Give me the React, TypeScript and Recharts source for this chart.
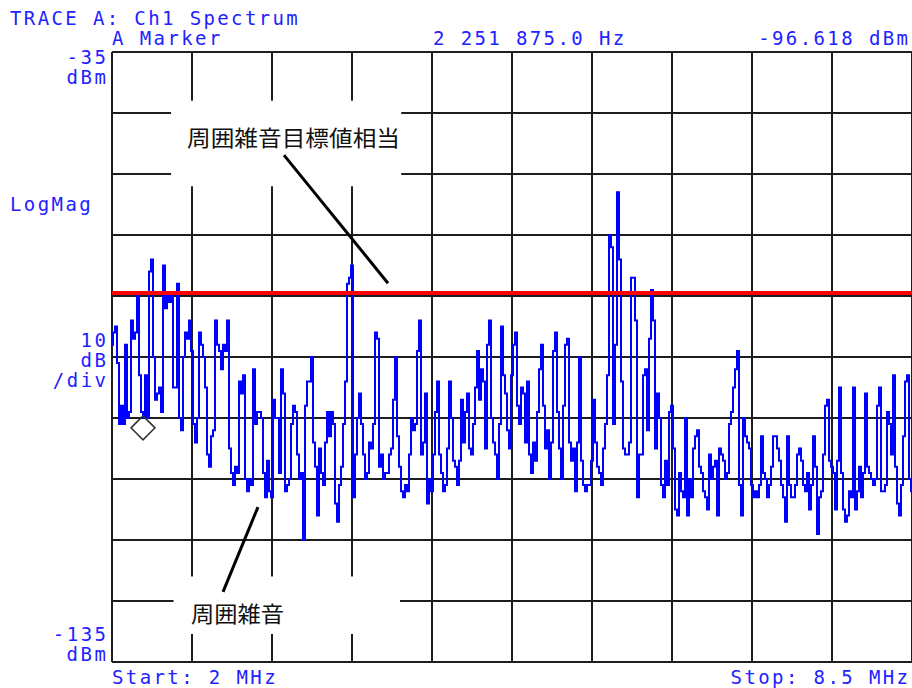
import React from 'react';
import {
  LineChart, Line, XAxis, YAxis, CartesianGrid, ReferenceArea, ReferenceLine, ReferenceDot,
} from 'recharts';

// ---- Data ----
const START_MHZ = 2;
const STOP_MHZ = 8.5;
const REF_TOP_DBM = -35;
const REF_BOTTOM_DBM = -135;
const DB_PER_DIV = 10;
const TARGET_LEVEL_DBM = -74.5; // 周囲雑音目標値相当
const MARKER_FREQ_MHZ = 2.251875;
const MARKER_LEVEL_DBM = -96.618;

// Trace levels (dBm), 401 sweep points from 2 MHz to 8.5 MHz
const traceLevels: number[] = [
  -83, -81, -80, -86, -96, -93, -96, -83, -95, -94,
  -79, -82, -81, -75, -88, -94, -95, -88, -95, -71,
  -69, -85, -92, -91, -90, -94, -70, -77, -75, -76,
  -75, -90, -90, -73, -95, -97, -85, -81, -82, -79,
  -84, -96, -99, -95, -81, -83, -85, -90, -101, -103,
  -98, -97, -79, -83, -84, -87, -83, -84, -79, -100,
  -104, -106, -103, -104, -89, -91, -88, -105, -107, -105,
  -106, -87, -96, -94, -94, -95, -104, -108, -102, -107,
  -108, -92, -95, -95, -104, -87, -91, -107, -106, -105,
  -96, -93, -94, -101, -105, -104, -115, -93, -89, -89,
  -85, -99, -103, -111, -100, -104, -106, -99, -94, -98,
  -94, -96, -109, -112, -106, -103, -96, -89, -73, -72,
  -70, -108, -101, -95, -91, -96, -101, -105, -104, -99,
  -100, -96, -81, -82, -103, -101, -105, -104, -104, -101,
  -100, -92, -85, -98, -103, -107, -108, -106, -107, -101,
  -95, -97, -96, -84, -79, -101, -99, -91, -109, -105,
  -107, -101, -94, -89, -101, -104, -107, -106, -100, -89,
  -95, -102, -103, -106, -102, -92, -99, -94, -91, -100,
  -101, -96, -90, -84, -92, -87, -89, -100, -83, -79,
  -95, -99, -101, -105, -96, -80, -88, -91, -97, -100,
  -88, -83, -81, -93, -96, -90, -91, -99, -89, -101,
  -104, -99, -102, -94, -87, -83, -93, -100, -97, -105,
  -99, -84, -81, -94, -100, -105, -93, -83, -82, -99,
  -102, -100, -107, -99, -85, -102, -106, -107, -106, -106,
  -102, -92, -99, -103, -104, -106, -100, -96, -88, -65,
  -67, -96, -83, -58, -69, -89, -100, -101, -101, -99,
  -72, -72, -79, -108, -101, -101, -88, -87, -97, -82,
  -74, -79, -100, -91, -95, -106, -108, -102, -106, -94,
  -93, -100, -110, -111, -104, -107, -108, -95, -111, -105,
  -108, -100, -98, -97, -103, -104, -107, -108, -110, -101,
  -105, -103, -102, -111, -100, -101, -102, -105, -104, -96,
  -94, -90, -87, -84, -106, -111, -95, -98, -99, -100,
  -106, -108, -107, -108, -106, -98, -104, -105, -108, -106,
  -103, -98, -98, -100, -102, -106, -108, -112, -98, -106,
  -108, -108, -106, -101, -100, -102, -106, -107, -104, -110,
  -106, -98, -103, -114, -108, -107, -101, -93, -92, -102,
  -103, -104, -110, -102, -90, -104, -110, -112, -111, -107,
  -108, -90, -110, -107, -103, -108, -104, -91, -103, -104,
  -105, -106, -105, -93, -90, -107, -107, -106, -94, -96,
  -101, -88, -103, -109, -111, -106, -98, -89, -88, -105,
  -107,
];

const sweepStep = (STOP_MHZ - START_MHZ) / (traceLevels.length - 1);
const traceData = traceLevels.map((v, i) => ({ f: START_MHZ + i * sweepStep, v }));
const targetData = [
  { f: START_MHZ, v: TARGET_LEVEL_DBM },
  { f: STOP_MHZ, v: TARGET_LEVEL_DBM },
];

const xTicks = Array.from({ length: 11 }, (_, i) => START_MHZ + (i * (STOP_MHZ - START_MHZ)) / 10);
const yTicks = Array.from({ length: 11 }, (_, i) => REF_BOTTOM_DBM + i * DB_PER_DIV);

// Annotation boxes and pointer lines (in MHz / dBm)
const topNoteBox = { x1: 2.48, x2: 4.35, y1: -57, y2: -43 };
const bottomNoteBox = { x1: 2.5, x2: 4.34, y1: -130.4, y2: -121 };
const topPointer: [number, number][] = [[3.3975, -51.9], [4.2425, -72.9]];
const bottomPointer: [number, number][] = [[3.186, -109.6], [2.902, -123.5]];

const W = 912;
const H = 688;
const BLUE_TEXT = '#2222ff';
const CHAR = 13.8;

type Lbl = { t: string; x?: number; right?: number; y: number };
const labels: Lbl[] = [
  { t: 'TRACE A: Ch1 Spectrum', x: 10, y: 25 },
  { t: 'A Marker', x: 112, y: 45 },
  { t: '2 251 875.0 Hz', x: 433, y: 45 },
  { t: '-96.618 dBm', right: 910, y: 45 },
  { t: '-35', right: 108, y: 64 },
  { t: 'dBm', right: 108, y: 84 },
  { t: 'LogMag', x: 10, y: 211 },
  { t: '10', right: 108, y: 347 },
  { t: 'dB', right: 108, y: 367 },
  { t: '/div', right: 108, y: 387 },
  { t: '-135', right: 108, y: 641 },
  { t: 'dBm', right: 108, y: 661 },
  { t: 'Start: 2 MHz', x: 112, y: 684 },
  { t: 'Stop: 8.5 MHz', right: 910, y: 684 },
];

const Diamond = (props: any) => {
  const { cx, cy } = props;
  const r = 12;
  return (
    <polygon
      points={`${cx},${cy - r} ${cx + r},${cy} ${cx},${cy + r} ${cx - r},${cy}`}
      fill="none"
      stroke="#333"
      strokeWidth={1.5}
    />
  );
};

export default function App() {
  return (
    <div style={{ position: 'absolute', left: 0, top: 0, width: W, height: H, background: '#fff' }}>
      <LineChart
        width={W}
        height={H}
        data={traceData}
        margin={{ top: 52, right: 0, bottom: 26, left: 112 }}
      >
        <XAxis type="number" dataKey="f" domain={[START_MHZ, STOP_MHZ]} ticks={xTicks} hide allowDataOverflow />
        <YAxis type="number" domain={[REF_BOTTOM_DBM, REF_TOP_DBM]} ticks={yTicks} hide allowDataOverflow />
        <CartesianGrid stroke="#1e1e1e" strokeWidth={2} horizontal vertical />
        <ReferenceArea {...topNoteBox} fill="#ffffff" fillOpacity={1} stroke="none" ifOverflow="visible" />
        <ReferenceArea {...bottomNoteBox} fill="#ffffff" fillOpacity={1} stroke="none" ifOverflow="visible" />
        <ReferenceLine
          segment={[{ x: topPointer[0][0], y: topPointer[0][1] }, { x: topPointer[1][0], y: topPointer[1][1] }]}
          stroke="#000"
          strokeWidth={3}
          ifOverflow="visible"
        />
        <ReferenceLine
          segment={[{ x: bottomPointer[0][0], y: bottomPointer[0][1] }, { x: bottomPointer[1][0], y: bottomPointer[1][1] }]}
          stroke="#000"
          strokeWidth={3}
          ifOverflow="visible"
        />
        <Line
          type="step"
          dataKey="v"
          stroke="#0000ff"
          strokeWidth={2}
          strokeLinejoin="miter"
          dot={false}
          isAnimationActive={false}
        />
        <Line
          type="linear"
          data={targetData}
          dataKey="v"
          stroke="#ff0000"
          strokeWidth={4}
          dot={false}
          isAnimationActive={false}
        />
        <ReferenceDot x={MARKER_FREQ_MHZ} y={MARKER_LEVEL_DBM} shape={Diamond} ifOverflow="visible" />
      </LineChart>
      <svg
        width={W}
        height={H}
        style={{ position: 'absolute', left: 0, top: 0, pointerEvents: 'none' }}
      >
        {labels.map((l, i) => {
          const len = l.t.length * CHAR;
          const x = l.x !== undefined ? l.x : (l.right as number) - len;
          return (
            <text
              key={i}
              x={x}
              y={l.y}
              fill={BLUE_TEXT}
              fontFamily="'DejaVu Sans Mono', monospace"
              fontSize={19}
              textLength={len - 2}
              lengthAdjust="spacing"
            >
              {l.t}
            </text>
          );
        })}
        <text x={187} y={146} fill="#111" fontFamily="'Noto Sans CJK JP', sans-serif" fontSize={22} textLength={213} lengthAdjust="spacingAndGlyphs">
          周囲雑音目標値相当
        </text>
        <text x={191} y={622} fill="#111" fontFamily="'Noto Sans CJK JP', sans-serif" fontSize={22} textLength={93} lengthAdjust="spacingAndGlyphs">
          周囲雑音
        </text>
      </svg>
    </div>
  );
}
